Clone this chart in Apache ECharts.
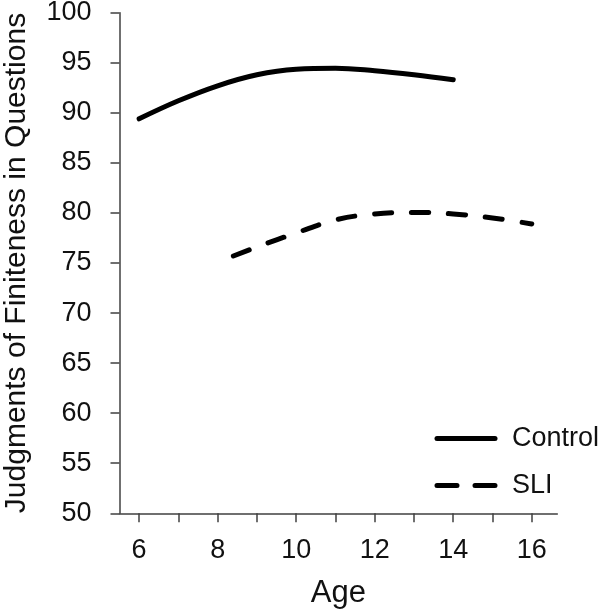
<!DOCTYPE html>
<html>
<head>
<meta charset="utf-8">
<script src="https://cdn.jsdelivr.net/npm/echarts@6/dist/echarts.min.js"></script>
<style>html,body{margin:0;padding:0;background:#fff}#c{width:600px;height:614px}</style>
</head>
<body>
<div id="c"></div>
<script>
const controlAges = [6, 7, 8, 9, 10, 11, 12, 13, 14];
const controlValues = [89.4, 91.2, 92.7, 93.8, 94.35, 94.45, 94.2, 93.8, 93.3];
const sliAges = [8.4, 9, 10, 11, 12, 13, 14, 15, 16];
const sliValues = [75.7, 76.6, 78.0, 79.3, 79.9, 80.05, 79.9, 79.5, 78.9];
const xTickValues = [6, 7, 8, 9, 10, 11, 12, 13, 14, 15, 16];
const xLabelValues = [6, 8, 10, 12, 14, 16];
const seriesNames = ['Control', 'SLI'];

const font = '"Liberation Sans", Arial, sans-serif';
const axisColor = '#404040';
const chart = echarts.init(document.getElementById('c'), null, {renderer: 'canvas'});
chart.setOption({
  animation: false,
  backgroundColor: '#ffffff',
  grid: {left: 119.5, right: 42.7, top: 12.7, bottom: 100.7, containLabel: false, outerBoundsMode: 'none'},
  legend: {
    orient: 'vertical', left: 434.5, top: 425, padding: 0,
    itemWidth: 58, itemHeight: 20, itemGap: 20,
    itemStyle: {opacity: 0},
    lineStyle: {width: 5, cap: 'round'},
    textStyle: {fontFamily: font, fontSize: 27, lineHeight: 20, color: '#111', padding: [0, 0, 0, 12]},
    data: [
      {name: seriesNames[0], lineStyle: {width: 5, type: 'solid', cap: 'round'}},
      {name: seriesNames[1], lineStyle: {width: 5, type: [20, 18], cap: 'round'}}
    ]
  },
  xAxis: {
    type: 'value', min: 5.5, max: 16.65,
    name: 'Age', nameLocation: 'middle', nameGap: 65,
    nameTextStyle: {fontFamily: font, fontSize: 31, color: '#111'},
    splitLine: {show: false},
    axisLine: {show: true, onZero: false, lineStyle: {color: axisColor, width: 1.5}},
    axisTick: {show: true, customValues: xTickValues, length: 9, lineStyle: {color: axisColor, width: 1.5}},
    axisLabel: {customValues: xLabelValues, fontFamily: font, fontSize: 27, color: '#111', margin: 24}
  },
  yAxis: {
    type: 'value', min: 50, max: 100, interval: 5,
    name: 'Judgments of Finiteness in Questions', nameLocation: 'middle', nameGap: 88, nameRotate: 90,
    nameTextStyle: {fontFamily: font, fontSize: 30, color: '#111'},
    splitLine: {show: false},
    axisLine: {show: true, onZero: false, lineStyle: {color: axisColor, width: 1.5}},
    axisTick: {show: true, length: 9, lineStyle: {color: axisColor, width: 1.5}},
    axisLabel: {fontFamily: font, fontSize: 27, color: '#111', margin: 28}
  },
  series: [
    {
      name: seriesNames[0], type: 'line', smooth: 0.4, symbol: 'none',
      data: controlAges.map((a, i) => [a, controlValues[i]]),
      lineStyle: {color: '#000', width: 5, cap: 'round', join: 'round'},
      itemStyle: {color: '#000'}
    },
    {
      name: seriesNames[1], type: 'line', smooth: 0.4, symbol: 'none',
      data: sliAges.map((a, i) => [a, sliValues[i]]),
      lineStyle: {color: '#000', width: 5, type: [17, 20], cap: 'round', join: 'round'},
      itemStyle: {color: '#000'}
    }
  ]
});
</script>
</body>
</html>
